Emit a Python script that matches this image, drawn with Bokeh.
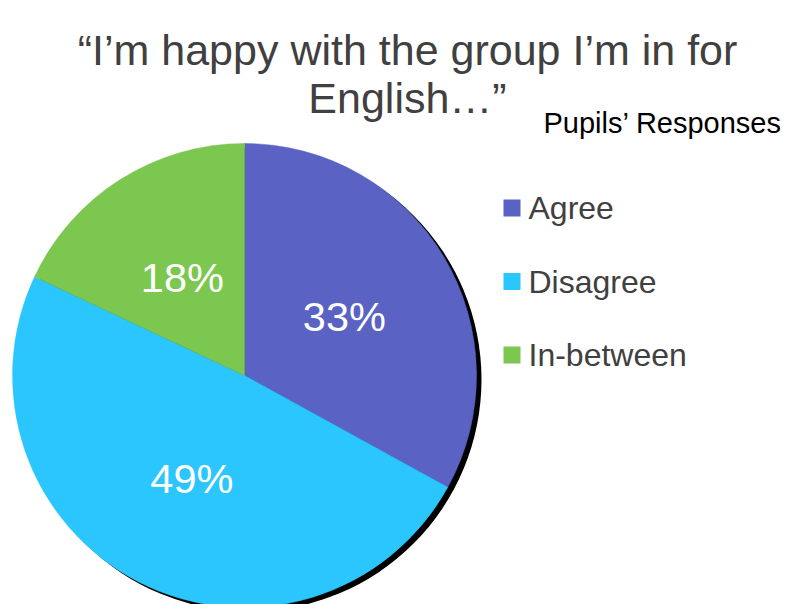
import math
from bokeh.plotting import figure
from bokeh.models import Range1d, ColumnDataSource
from bokeh.core.properties import value
from bokeh.embed import file_html
from bokeh.resources import INLINE

# ---- data ----
categories = ["Agree", "Disagree", "In-between"]
percents = [33, 49, 18]
colors = ["#5A62C4", "#2CC6FF", "#7CC74F"]
title_lines = ["\u201cI\u2019m happy with the group I\u2019m in for", "English\u2026\u201d"]
subtitle = "Pupils\u2019 Responses"

W, H = 786, 604
PAGE_H = 604


def py(page_y):
    return PAGE_H - page_y


p = figure(width=W, height=H, output_backend="svg", toolbar_location=None,
           x_range=Range1d(0, W), y_range=Range1d(py(H), py(0)),
           min_border=0)
p.axis.visible = False
p.grid.visible = False
p.outline_line_color = None
p.background_fill_color = "white"

cx, cy, R = 244, py(375), 232

# shadow
p.circle(x=[cx + 5], y=[cy - 4], radius=R, fill_color="black", line_color=None)

# wedges
total = sum(percents)
starts, ends, mids = [], [], []
a = math.pi / 2
for v in percents:
    s = a
    e = a - v / total * 2 * math.pi
    starts.append(s)
    ends.append(e)
    mids.append((s + e) / 2)
    a = e

src = ColumnDataSource(dict(cat=categories, start=starts, end=ends, color=colors,
                            lx=[cx + 0.5 * R * math.cos(m) for m in mids],
                            ly=[cy + 0.5 * R * math.sin(m) for m in mids],
                            lab=[f"{v}%" for v in percents]))
p.wedge(x=cx, y=cy, radius=R, start_angle="start", end_angle="end", direction="clock",
        fill_color="color", line_color="color", line_width=0.5, source=src)

p.text(x="lx", y="ly", text="lab", source=src, text_color="white",
       text_font=value("Liberation Sans"), text_font_size="41.5px",
       text_align="center", text_baseline="middle")

# title
p.text(x=[407, 407], y=[py(49), py(97)], text=title_lines, text_color="#404040",
       text_font=value("Liberation Sans"), text_font_size="43px",
       text_align="center", text_baseline="alphabetic")
p.text(x=[543], y=[py(122)], text=[subtitle], text_color="black",
       text_font=value("Liberation Sans"), text_font_size="29px",
       text_align="left", text_baseline="alphabetic")

# legend
leg_y = [py(207.5 + 73.5 * i) for i in range(len(categories))]
leg = ColumnDataSource(dict(x=[511.5] * 3, y=leg_y, tx=[528] * 3, cat=categories, color=colors))
p.scatter(x="x", y="y", marker="square", size=17, fill_color="color", line_color=None, source=leg)
p.text(x="tx", y="y", text="cat", source=leg, text_color="#404040",
       text_font=value("Liberation Sans"), text_font_size="32px",
       text_align="left", text_baseline="middle")

open("out.html", "w").write(file_html(p, INLINE))
